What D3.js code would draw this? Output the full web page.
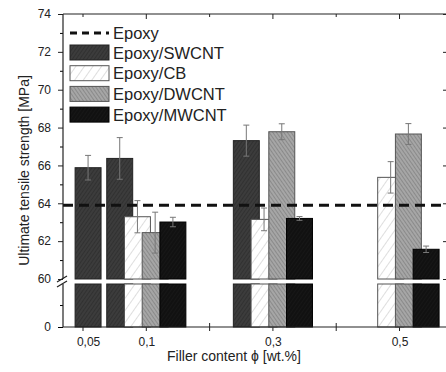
<!DOCTYPE html>
<html>
<head>
<meta charset="utf-8">
<script src="https://cdn.jsdelivr.net/npm/d3@7"></script>
<style>
  body { margin: 0; background: #fff; }
  text { font-family: "Liberation Sans", Arial, sans-serif; fill: #222; }
</style>
</head>
<body>
<div id="chart"></div>
<script>
// data
var categories = ["0,05", "0,1", "0,3", "0,5"];
var categoryPos = [1.08, 2, 4, 6];   // position on the filler axis (tick units)
var series = ["Epoxy/SWCNT", "Epoxy/CB", "Epoxy/DWCNT", "Epoxy/MWCNT"];
var swcnt = [65.88, 66.37, 67.31, null];
var swcntErr = [0.65, 1.1, 0.82, null];
var cb = [null, 63.29, 63.15, 65.37];
var cbErr = [null, 0.85, 0.6, 0.83];
var dwcnt = [null, 62.45, 67.78, 67.66];
var dwcntErr = [null, 1.08, 0.42, 0.55];
var mwcnt = [null, 63.01, 63.2, 61.57];
var mwcntErr = [null, 0.25, 0.1, 0.17];
var epoxy = 63.9;
var yMajor = [60, 62, 64, 66, 68, 70, 72, 74];
var yMinor = [61, 63, 65, 67, 69, 71, 73];

var values = [swcnt, cb, dwcnt, mwcnt];
var errors = [swcntErr, cbErr, dwcntErr, mwcntErr];

var svgWidth = 446, svgHeight = 372;
var plotLeft = 63, plotRight = 447, plotTop = 14, plotBottom = 327;
var breakTop = 279, breakBottom = 284;

var svg = d3.select("#chart").append("svg")
  .attr("width", svgWidth)
  .attr("height", svgHeight);

// patterns
var defs = svg.append("defs");
function hatch(id, bg, line, spacing, angle, w) {
  var p = defs.append("pattern")
    .attr("id", id)
    .attr("patternUnits", "userSpaceOnUse")
    .attr("width", spacing).attr("height", spacing)
    .attr("patternTransform", "rotate(" + angle + ")");
  p.append("rect").attr("width", spacing).attr("height", spacing).attr("fill", bg);
  p.append("line").attr("x1", 0).attr("y1", 0).attr("x2", 0).attr("y2", spacing)
    .attr("stroke", line).attr("stroke-width", w);
}
hatch("pSW", "#3c3c3c", "#262626", 3, 35, 1);
hatch("pCB", "#ffffff", "#bdbdbd", 7, 35, 1);
hatch("pDW", "#a6a6a6", "#6e6e6e", 3, -35, 1);
hatch("pMW", "#111111", "#1d1d1d", 3, 35, 1);
var fills = ["url(#pSW)", "url(#pCB)", "url(#pDW)", "url(#pMW)"];
var strokes = ["#222", "#555", "#555", "#000"];

// scales
var x = d3.scaleLinear().domain([0.684, 6.75]).range([plotLeft, plotRight]);
var yUp = d3.scaleLinear().domain([60, 74]).range([breakTop, plotTop]);
var yLow = d3.scaleLinear().domain([0, 2.25]).range([plotBottom, breakBottom]);

var slot = 0.28, barW = 0.41;

// top axis ticks
var topG = svg.append("g");
topG.append("line").attr("x1", plotLeft).attr("x2", plotRight).attr("y1", plotTop).attr("y2", plotTop)
  .attr("stroke", "#222").attr("stroke-width", 1.2);
[1, 2, 3, 4, 5, 6].forEach(function(t) {
  topG.append("line").attr("x1", x(t)).attr("x2", x(t))
    .attr("y1", plotTop).attr("y2", plotTop + (t % 2 === 0 ? 5 : 3))
    .attr("stroke", "#222");
});

// bottom axis ticks
var botG = svg.append("g");
[1, 2, 3, 4, 5, 6].forEach(function(t) {
  botG.append("line").attr("x1", x(t)).attr("x2", x(t))
    .attr("y1", plotBottom - 4).attr("y2", plotBottom + 4)
    .attr("stroke", "#222");
});

// bars
series.forEach(function(s, si) {
  var g = svg.append("g");
  categories.forEach(function(c, ci) {
    var v = values[si][ci];
    if (v == null) return;
    var count = values.filter(function(arr) { return arr[ci] != null; }).length;
    var cx = count === 1 ? x(categoryPos[ci]) : x(categoryPos[ci] + (si - 1.5) * slot);
    var w = x(barW) - x(0);
    g.append("rect")
      .attr("x", cx - w / 2).attr("width", w)
      .attr("y", yUp(v)).attr("height", yUp(60) - yUp(v))
      .attr("fill", fills[si]).attr("stroke", strokes[si]).attr("stroke-width", 1);
    g.append("rect")
      .attr("x", cx - w / 2).attr("width", w)
      .attr("y", yLow(2.25)).attr("height", yLow(0) - yLow(2.25))
      .attr("fill", fills[si]).attr("stroke", strokes[si]).attr("stroke-width", 1);
    var e = errors[si][ci];
    g.append("line").attr("x1", cx).attr("x2", cx)
      .attr("y1", yUp(v + e)).attr("y2", yUp(v - e))
      .attr("stroke", "#777").attr("stroke-width", 1);
    g.append("line").attr("x1", cx - 3).attr("x2", cx + 3)
      .attr("y1", yUp(v + e)).attr("y2", yUp(v + e))
      .attr("stroke", "#777").attr("stroke-width", 1);
    g.append("line").attr("x1", cx - 3).attr("x2", cx + 3)
      .attr("y1", yUp(v - e)).attr("y2", yUp(v - e))
      .attr("stroke", "#777").attr("stroke-width", 1);
  });
});

// epoxy reference line
svg.append("line")
  .attr("x1", plotLeft).attr("x2", plotRight)
  .attr("y1", yUp(epoxy)).attr("y2", yUp(epoxy))
  .attr("stroke", "#111").attr("stroke-width", 3)
  .attr("stroke-dasharray", "10,6");

// bottom axis line + labels
svg.append("line").attr("x1", plotLeft).attr("x2", plotRight).attr("y1", plotBottom).attr("y2", plotBottom)
  .attr("stroke", "#222").attr("stroke-width", 1.2);
var xLabels = d3.axisBottom(x)
  .tickValues(categoryPos)
  .tickFormat(function(d, i) { return categories[i]; })
  .tickSize(0).tickPadding(10);
svg.append("g").attr("transform", "translate(0," + plotBottom + ")").call(xLabels)
  .call(function(g) { g.select(".domain").remove(); })
  .selectAll("text").style("font-size", "12px").attr("fill", "#222");

// left axis
var leftAxis = d3.axisLeft(yUp).tickValues(yMajor).tickSize(5).tickPadding(7).tickSizeOuter(0)
  .tickFormat(d3.format("d"));
var leftG = svg.append("g").attr("transform", "translate(" + plotLeft + ",0)").call(leftAxis);
leftG.select(".domain").remove();
leftG.selectAll("text").style("font-size", "12px").attr("fill", "#222");
leftG.selectAll("line").attr("stroke", "#222");
var leftMinor = d3.axisLeft(yUp).tickValues(yMinor).tickSize(3).tickFormat("");
svg.append("g").attr("transform", "translate(" + plotLeft + ",0)").call(leftMinor)
  .call(function(g) { g.select(".domain").remove(); });

var lowAxis = d3.axisLeft(yLow).tickValues([0]).tickSize(5).tickPadding(7).tickFormat(d3.format("d"));
var lowG = svg.append("g").attr("transform", "translate(" + plotLeft + ",0)").call(lowAxis);
lowG.select(".domain").remove();
lowG.selectAll("text").style("font-size", "12px").attr("fill", "#222");
svg.append("g").attr("transform", "translate(" + plotLeft + ",0)")
  .call(d3.axisLeft(yLow).tickValues([1.15]).tickSize(3).tickFormat(""))
  .call(function(g) { g.select(".domain").remove(); });

svg.append("line").attr("x1", plotLeft).attr("x2", plotLeft).attr("y1", plotTop).attr("y2", breakTop)
  .attr("stroke", "#222").attr("stroke-width", 1.2);
svg.append("line").attr("x1", plotLeft).attr("x2", plotLeft).attr("y1", breakBottom).attr("y2", plotBottom)
  .attr("stroke", "#222").attr("stroke-width", 1.2);
// break marks
[breakTop, breakBottom].forEach(function(b) {
  svg.append("line")
    .attr("x1", plotLeft - 6).attr("y1", b + 3)
    .attr("x2", plotLeft + 4).attr("y2", b - 3)
    .attr("stroke", "#222").attr("stroke-width", 1.2);
});

// right axis ticks (mirror)
var rightG = svg.append("g").attr("transform", "translate(" + plotRight + ",0)");
rightG.call(d3.axisRight(yUp).tickValues(yMajor).tickSize(-4).tickFormat(""))
  .call(function(g) { g.select(".domain").remove(); });
rightG.selectAll("line").attr("stroke", "#222");

// axis titles
svg.append("text")
  .attr("transform", "translate(29," + ((plotTop + plotBottom) / 2) + ") rotate(-90)")
  .attr("text-anchor", "middle")
  .style("font-size", "14px")
  .text("Ultimate tensile strength [MPa]");

svg.append("text")
  .attr("x", 234).attr("y", 361)
  .attr("text-anchor", "middle")
  .style("font-size", "14px")
  .text("Filler content \u03d5 [wt.%]");

// legend
var legend = svg.append("g").attr("transform", "translate(70,25)");
legend.append("line").attr("x1", 0).attr("x2", 39).attr("y1", 8).attr("y2", 8)
  .attr("stroke", "#111").attr("stroke-width", 3).attr("stroke-dasharray", "7,5");
legend.append("text").attr("x", 43).attr("y", 14).style("font-size", "16.5px").text("Epoxy");
series.forEach(function(s, i) {
  var yy = 20 + i * 20.7;
  legend.append("rect").attr("x", 0).attr("y", yy).attr("width", 39).attr("height", 15)
    .attr("fill", fills[i]).attr("stroke", strokes[i]).attr("stroke-width", 1);
  legend.append("text").attr("x", 43).attr("y", yy + 13.5).style("font-size", "16.5px").text(s);
});
</script>
</body>
</html>
